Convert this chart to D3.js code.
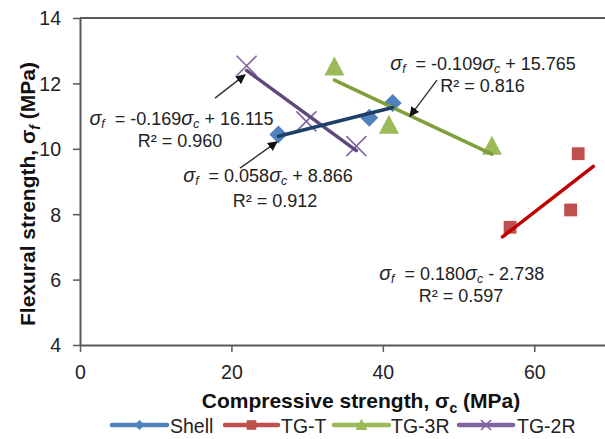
<!DOCTYPE html>
<html><head><meta charset="utf-8">
<script src="https://cdn.jsdelivr.net/npm/d3@7"></script>
<style>body{margin:0;background:#fff}svg{display:block}text{font-family:"Liberation Sans",Arial,sans-serif;white-space:pre}</style>
</head><body><svg id="c" width="605" height="439"></svg>
<script>
// ---- data ----
const seriesNames = ["Shell","TG-T","TG-3R","TG-2R"];
const shellX = [26.2, 38.2, 41.3];
const shellY = [10.44, 10.95, 11.40];
const tgtX = [56.8, 64.8, 65.8];
const tgtY = [7.60, 8.13, 9.85];
const tg3rX = [33.6, 40.8, 54.4];
const tg3rY = [12.50, 10.72, 10.08];
const tg2rX = [22.0, 29.9, 36.5];
const tg2rY = [12.54, 10.84, 10.08];
// trendline coefficients (slope, intercept) and drawn x-range
const trendSlope = [0.058, 0.180, -0.109, -0.169];
const trendIntercept = [8.866, -2.738, 15.765, 16.115];
const trendFrom = [26.2, 55.8, 33.6, 22.0];
const trendTo = [41.3, 67.8, 54.4, 36.5];
const r2 = ["0.912","0.597","0.816","0.960"];
const xTicks = [0, 20, 40, 60];
const yTicks = [4, 6, 8, 10, 12, 14];

const markerColor = ["#4F81BD","#C0504D","#9BBB59","#8064A2"];
const trendColor = ["#1F3F6B","#C00000","#7FA03C","#604A7B"];

const svg = d3.select("#c");
const x = d3.scaleLinear().domain([0,70]).range([80,610]);
const y = d3.scaleLinear().domain([4,14]).range([345,18]);
const axisCol = "#595959";

// top border
svg.append("line").attr("x1",x(0)).attr("x2",x(70)).attr("y1",y(14)).attr("y2",y(14))
  .attr("stroke",axisCol).attr("stroke-width",2);

// axes
const gx = svg.append("g").attr("transform",`translate(0,${y(4)})`)
  .call(d3.axisBottom(x).tickValues(xTicks).tickSize(7).tickPadding(8).tickSizeOuter(0));
const gy = svg.append("g").attr("transform",`translate(${x(0)},0)`)
  .call(d3.axisLeft(y).tickValues(yTicks).tickSize(7).tickPadding(12).tickSizeOuter(0));
[gx,gy].forEach(g=>{
  g.select(".domain").attr("stroke",axisCol).attr("stroke-width",2);
  g.selectAll(".tick line").attr("stroke",axisCol).attr("stroke-width",1.5);
  g.selectAll(".tick text").attr("fill","#222").style("font-size","19.5px")
   .style("font-family","'Liberation Sans',Arial,sans-serif");
});
gx.selectAll(".tick text").attr("dy","0.95em");
gy.selectAll(".tick text").attr("dy","0.35em");

// markers
const sets = [[shellX,shellY],[tgtX,tgtY],[tg3rX,tg3rY],[tg2rX,tg2rY]];
function drawMarker(g, i, cx, cy, s){
  if(i===0){
    g.append("path").attr("d",`M${cx},${cy-s}L${cx+s},${cy}L${cx},${cy+s}L${cx-s},${cy}Z`).attr("fill",markerColor[0]);
  } else if(i===1){
    g.append("rect").attr("x",cx-s*0.8).attr("y",cy-s*0.8).attr("width",s*1.6).attr("height",s*1.6).attr("fill",markerColor[1]);
  } else if(i===2){
    g.append("path").attr("d",`M${cx},${cy-s*1.05}L${cx+s},${cy+s*0.85}L${cx-s},${cy+s*0.85}Z`).attr("fill",markerColor[2]);
  } else {
    g.append("path").attr("d",`M${cx-s},${cy-s}L${cx+s},${cy+s}M${cx+s},${cy-s}L${cx-s},${cy+s}`)
      .attr("stroke",markerColor[3]).attr("stroke-width",1.6).attr("fill","none");
  }
}
const gm = svg.append("g");
sets.forEach((d,i)=>{
  d[0].forEach((xv,j)=>{
    const s = [9,8,10,10][i];
    drawMarker(gm, i, x(xv), y(d[1][j]), s);
  });
});

// trendlines (drawn above markers)
const order = [3,1,2,0];
order.forEach(i=>{
  const xs=[trendFrom[i],trendTo[i]];
  svg.append("line")
    .attr("x1",x(xs[0])).attr("y1",y(trendSlope[i]*xs[0]+trendIntercept[i]))
    .attr("x2",x(xs[1])).attr("y2",y(trendSlope[i]*xs[1]+trendIntercept[i]))
    .attr("stroke",trendColor[i]).attr("stroke-width",3.5).attr("stroke-linecap","round");
});

// annotations in data units
const annIdx = [3, 0, 2, 1];
const annEqX = [13.41, 24.83, 53.23, 50.41];
const annEqY = [10.73, 8.97, 12.41, 5.99];
const annR2X = [13.2, 25.76, 53.16, 50.32];
const annR2Y = [10.06, 8.22, 11.75, 5.32];
const fs = 18;
annIdx.forEach((si,k)=>{
  const t = svg.append("text").attr("x",x(annEqX[k])).attr("y",y(annEqY[k]))
    .attr("text-anchor","middle").attr("fill","#222").style("font-size",fs+"px");
  const sl = trendSlope[si], ic = trendIntercept[si];
  t.append("tspan").text("σ").style("font-style","italic").style("font-size",(fs*1.1)+"px");
  t.append("tspan").text("f").style("font-style","italic").style("font-size",(fs*0.68)+"px").attr("dy",3);
  t.append("tspan").text("  = " + sl.toFixed(3)).attr("dy",-3);
  t.append("tspan").text("σ").style("font-style","italic").style("font-size",(fs*1.1)+"px");
  t.append("tspan").text("c").style("font-style","italic").style("font-size",(fs*0.68)+"px").attr("dy",3);
  t.append("tspan").text((ic<0?" - ":" + ")+Math.abs(ic).toFixed(3)).attr("dy",-3);
  svg.append("text").attr("x",x(annR2X[k])).attr("y",y(annR2Y[k])).attr("text-anchor","middle")
    .attr("fill","#222").style("font-size",fs+"px").text("R² = "+r2[si]);
});

// arrows (data units)
const arrFromX = [17.83, 21.13, 47.15];
const arrFromY = [11.55, 9.41, 12.10];
const arrToX = [21.79, 26.02, 43.59];
const arrToY = [12.26, 10.21, 11.00];
svg.append("defs").append("marker").attr("id","ah").attr("viewBox","0 0 10 10")
  .attr("refX",9).attr("refY",5).attr("markerWidth",7).attr("markerHeight",7)
  .attr("markerUnits","strokeWidth").attr("orient","auto")
  .append("path").attr("d","M0,0L10,5L0,10Z").attr("fill","#111");
arrFromX.forEach((v,k)=>{
  svg.append("line").attr("x1",x(v)).attr("y1",y(arrFromY[k])).attr("x2",x(arrToX[k])).attr("y2",y(arrToY[k]))
    .attr("stroke","#333").attr("stroke-width",1.4).attr("marker-end","url(#ah)");
});

// axis titles
const xt = svg.append("text").attr("x",361).attr("y",408).attr("text-anchor","middle")
  .style("font-weight","bold").style("font-size","21px").attr("fill","#111");
xt.append("tspan").text("Compressive strength, σ");
xt.append("tspan").text("c").style("font-size","14px").attr("dy",5);
xt.append("tspan").text(" (MPa)").attr("dy",-5);
const yt = svg.append("text").attr("transform","translate(35,194) rotate(-90)").attr("text-anchor","middle")
  .style("font-weight","bold").style("font-size","21px").attr("fill","#111");
yt.append("tspan").text("Flexural strength, σ");
yt.append("tspan").text("f").style("font-size","14px").style("font-style","italic").attr("dy",5);
yt.append("tspan").text(" (MPa)").attr("dy",-5);

// legend
const legLineFrom = [112, 225, 334, 459];
const legLineTo = [167, 278, 389, 513];
const legTextX = [170, 281, 391, 517];
const ly = 425;
seriesNames.forEach((n,i)=>{
  svg.append("line").attr("x1",legLineFrom[i]).attr("x2",legLineTo[i]).attr("y1",ly).attr("y2",ly)
    .attr("stroke",markerColor[i]).attr("stroke-width",4.5).attr("stroke-linecap","round");
  const cx=(legLineFrom[i]+legLineTo[i])/2;
  drawMarker(svg, i, cx, ly, [5,6,6,5][i]);
  svg.append("text").attr("x",legTextX[i]).attr("y",433).style("font-size","19.5px").attr("fill","#222").text(n);
});
</script></body></html>
